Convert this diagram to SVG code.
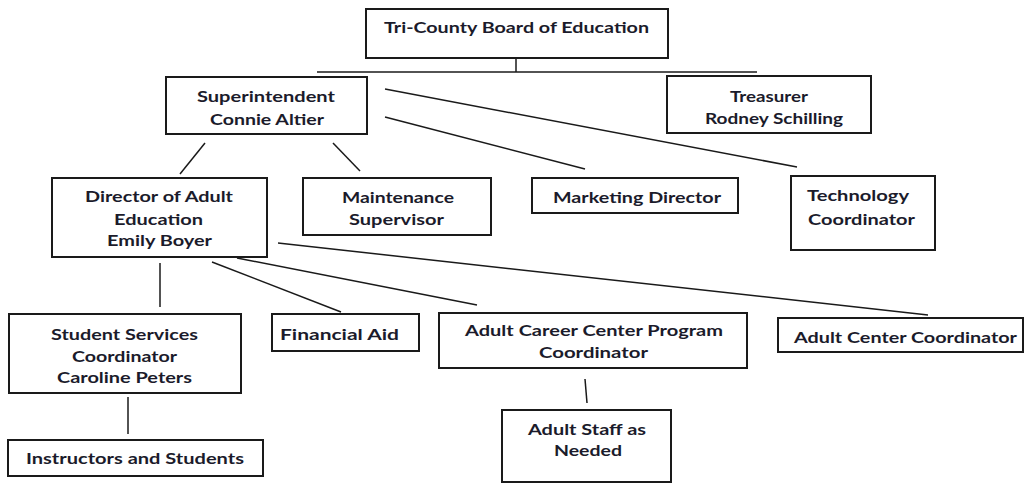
<svg xmlns="http://www.w3.org/2000/svg" width="1027" height="483" viewBox="0 0 1027 483">
  <style>
    .box { fill: #ffffff; stroke: #1a1a1a; stroke-width: 2; }
    .lbl { font-family: Lato, "Open Sans", "Liberation Sans", sans-serif; font-weight: 700; font-size: 16px; fill: #1b1b2b; }
    .wire { stroke: #1a1a1a; stroke-width: 1.5; fill: none; }
  </style>
  <rect width="1027" height="483" fill="#ffffff"/>

  <!-- reporting lines -->
  <g id="connectors">
    <line class="wire" x1="516" y1="33" x2="516" y2="72"/>
    <line class="wire" x1="317" y1="72" x2="757" y2="72"/>
    <line class="wire" x1="205" y1="143" x2="180" y2="174"/>
    <line class="wire" x1="333" y1="143" x2="360" y2="171"/>
    <line class="wire" x1="385" y1="117" x2="585" y2="169"/>
    <line class="wire" x1="385" y1="89" x2="797" y2="167"/>
    <line class="wire" x1="160" y1="263" x2="160" y2="307"/>
    <line class="wire" x1="212" y1="262" x2="341" y2="312"/>
    <line class="wire" x1="237" y1="258" x2="477" y2="305"/>
    <line class="wire" x1="278" y1="243" x2="928" y2="315"/>
    <line class="wire" x1="128" y1="397" x2="128" y2="434"/>
    <line class="wire" x1="585" y1="379" x2="587" y2="403"/>
  </g>

  <g id="board">
    <rect class="box" x="366" y="9" width="302" height="49"/>
    <text class="lbl" x="384" y="33" textLength="265" lengthAdjust="spacingAndGlyphs">Tri-County Board of Education</text>
  </g>

  <g id="superintendent">
    <rect class="box" x="166" y="77" width="201" height="57"/>
    <text class="lbl" x="197" y="101.5" textLength="138" lengthAdjust="spacingAndGlyphs">Superintendent</text>
    <text class="lbl" x="210" y="124.5" textLength="114" lengthAdjust="spacingAndGlyphs">Connie Altier</text>
  </g>

  <g id="treasurer">
    <rect class="box" x="667" y="76" width="204" height="57"/>
    <text class="lbl" x="730" y="101.5" textLength="78" lengthAdjust="spacingAndGlyphs">Treasurer</text>
    <text class="lbl" x="705" y="123.5" textLength="138" lengthAdjust="spacingAndGlyphs">Rodney Schilling</text>
  </g>

  <g id="director">
    <rect class="box" x="52" y="178" width="215" height="79"/>
    <text class="lbl" x="85" y="201.5" textLength="148" lengthAdjust="spacingAndGlyphs">Director of Adult</text>
    <text class="lbl" x="114" y="225" textLength="89" lengthAdjust="spacingAndGlyphs">Education</text>
    <text class="lbl" x="107" y="246" textLength="105" lengthAdjust="spacingAndGlyphs">Emily Boyer</text>
  </g>

  <g id="maintenance">
    <rect class="box" x="303" y="178" width="188" height="57"/>
    <text class="lbl" x="342" y="202.5" textLength="112" lengthAdjust="spacingAndGlyphs">Maintenance</text>
    <text class="lbl" x="349" y="225" textLength="95" lengthAdjust="spacingAndGlyphs">Supervisor</text>
  </g>

  <g id="marketing">
    <rect class="box" x="532" y="178" width="206" height="35"/>
    <text class="lbl" x="553" y="202.5" textLength="168" lengthAdjust="spacingAndGlyphs">Marketing Director</text>
  </g>

  <g id="technology">
    <rect class="box" x="791" y="176" width="144" height="74"/>
    <text class="lbl" x="807" y="200.5" textLength="102" lengthAdjust="spacingAndGlyphs">Technology</text>
    <text class="lbl" x="808" y="224.5" textLength="107" lengthAdjust="spacingAndGlyphs">Coordinator</text>
  </g>

  <g id="student-services">
    <rect class="box" x="9" y="314" width="232" height="79"/>
    <text class="lbl" x="51" y="339.5" textLength="147" lengthAdjust="spacingAndGlyphs">Student Services</text>
    <text class="lbl" x="72" y="361.5" textLength="105" lengthAdjust="spacingAndGlyphs">Coordinator</text>
    <text class="lbl" x="57" y="383" textLength="135" lengthAdjust="spacingAndGlyphs">Caroline Peters</text>
  </g>

  <g id="instructors">
    <rect class="box" x="8" y="440" width="255" height="36"/>
    <text class="lbl" x="26" y="464" textLength="218" lengthAdjust="spacingAndGlyphs">Instructors and Students</text>
  </g>

  <g id="financial-aid">
    <rect class="box" x="272" y="314" width="147" height="37"/>
    <text class="lbl" x="280" y="339.5" textLength="119" lengthAdjust="spacingAndGlyphs">Financial Aid</text>
  </g>

  <g id="career-center">
    <rect class="box" x="439" y="313" width="308" height="55"/>
    <text class="lbl" x="465" y="336" textLength="258" lengthAdjust="spacingAndGlyphs">Adult Career Center Program</text>
    <text class="lbl" x="539" y="358" textLength="109" lengthAdjust="spacingAndGlyphs">Coordinator</text>
  </g>

  <g id="center-coordinator">
    <rect class="box" x="778" y="318" width="245" height="34"/>
    <text class="lbl" x="794" y="343" textLength="223" lengthAdjust="spacingAndGlyphs">Adult Center Coordinator</text>
  </g>

  <g id="staff">
    <rect class="box" x="502" y="410" width="169" height="72"/>
    <text class="lbl" x="528" y="435" textLength="118" lengthAdjust="spacingAndGlyphs">Adult Staff as</text>
    <text class="lbl" x="554" y="456" textLength="68" lengthAdjust="spacingAndGlyphs">Needed</text>
  </g>
</svg>
